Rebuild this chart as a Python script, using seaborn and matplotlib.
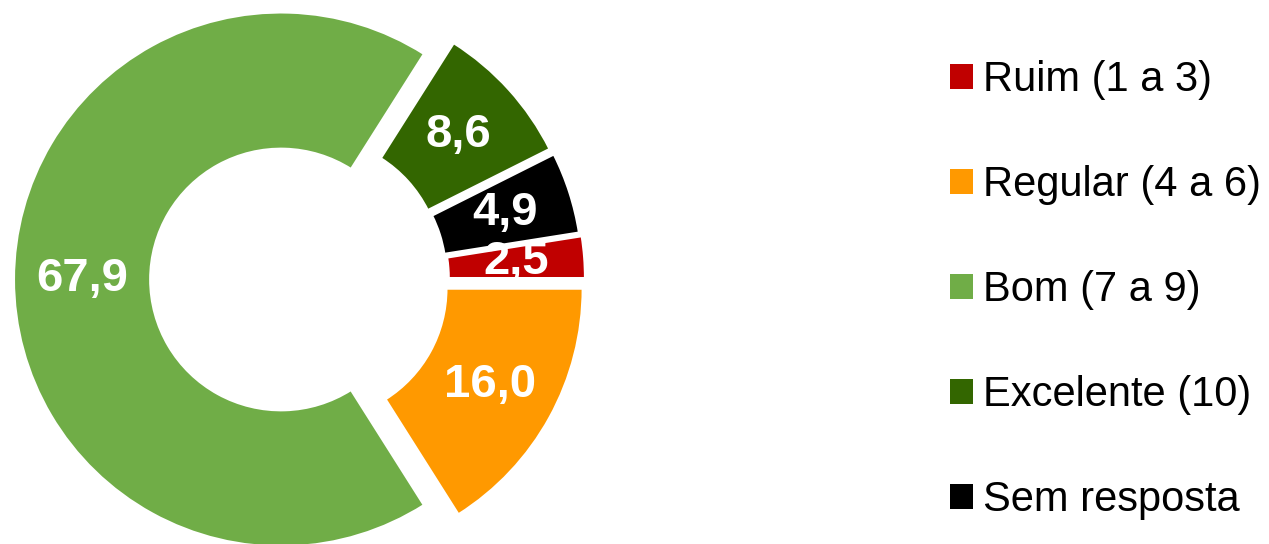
import seaborn as sns
import matplotlib.pyplot as plt
from matplotlib.patches import Patch
import numpy as np

# data
categories = ["Ruim (1 a 3)", "Regular (4 a 6)", "Bom (7 a 9)", "Excelente (10)", "Sem resposta"]
values = [2.5, 16.0, 67.9, 8.6, 4.9]
value_labels = ["2,5", "16,0", "67,9", "8,6", "4,9"]
colors = ["#C00000", "#FF9900", "#70AD47", "#336600", "#000000"]
explode_px = [19, 19, 18, 16, 17]

sns.set_theme(style="white")
plt.rcParams['font.family'] = ['Liberation Sans', 'DejaVu Sans']

W, H = 1269, 544
fig = plt.figure(figsize=(W / 100, H / 100), dpi=100)
ax = fig.add_axes([0, 0, 1, 1])

# donut geometry in pixel units
cx, cy = 299, H - 279.5
r_out = 267
ring = 0.51

wedges, _ = ax.pie(values, colors=colors, explode=explode_px, startangle=9,
                   counterclock=False, center=(cx, cy), radius=r_out,
                   wedgeprops=dict(width=r_out * ring, edgecolor="white", linewidth=1.5))

# value labels in the middle of each ring segment
for w, lab in zip(wedges, value_labels):
    ang = np.deg2rad((w.theta1 + w.theta2) / 2)
    rm = r_out * (1 - ring / 2)
    x0, y0 = w.center
    ax.text(x0 + rm * np.cos(ang), y0 + rm * np.sin(ang), lab,
            ha="center", va="center", color="white", fontsize=34, fontweight="bold")

ax.set_xlim(0, W)
ax.set_ylim(0, H)
ax.set_aspect("equal")
ax.axis("off")

handles = [Patch(facecolor=c, edgecolor="none") for c in colors]
fig.legend(handles, categories, loc="upper left", bbox_to_anchor=(950 / W, 1 - 60 / H),
           frameon=False, fontsize=30, labelspacing=1.56, handlelength=0.55,
           handleheight=0.55, handletextpad=0.25, borderpad=0, borderaxespad=0,
           labelcolor="black")

fig.savefig("out.png", dpi=100)
